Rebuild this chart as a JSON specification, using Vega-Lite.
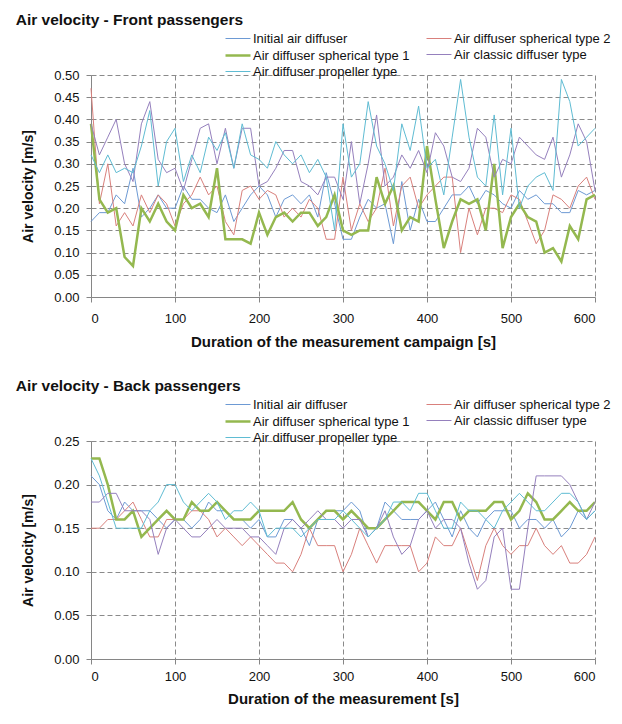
{
"$schema": "https://vega.github.io/schema/vega-lite/v6.json",
"background": "white",
"padding": {"left": 15, "top": 13, "right": 4, "bottom": 4},
"config": {
  "font": "Liberation Sans",
  "view": {"stroke": null},
  "axis": {
    "labelFont": "Liberation Sans", "labelFontSize": 13, "labelColor": "#111",
    "titleFont": "Liberation Sans", "titleFontSize": 14, "titleFontWeight": "bold", "titleColor": "#111",
    "domainColor": "#868686", "tickColor": "#868686", "tickSize": 5,
    "gridColor": "#8a8a8a", "gridDash": [5, 3], "gridWidth": 1
  },
  "legend": {"title": null, "orient": "none", "legendX": 137, "legendY": -45.5, "columns": 2, "symbolType": "M-1.47,0H1.47", "symbolSize": 289, "labelFontSize": 13, "labelFont": "Liberation Sans", "labelColor": "#111", "labelOffset": 5, "columnPadding": 14, "rowPadding": 0},
  "title": {"font": "Liberation Sans", "fontSize": 15.5, "fontWeight": "bold", "anchor": "start", "color": "#111"},
  "concat": {"spacing": 30}
},
"resolve": {"scale": {"color": "independent", "strokeWidth": "independent"}, "legend": {"color": "independent", "strokeWidth": "independent"}},
"datasets": {
"front": [
{"t":0,"ini":0.17,"sp2":0.47,"sp1":0.39,"cla":0.39,"pro":0.32},
{"t":10,"ini":0.19,"sp2":0.21,"sp1":0.22,"cla":0.32,"pro":0.28},
{"t":20,"ini":0.19,"sp2":0.30,"sp1":0.19,"cla":0.36,"pro":0.32},
{"t":30,"ini":0.23,"sp2":0.16,"sp1":0.20,"cla":0.40,"pro":0.28},
{"t":40,"ini":0.21,"sp2":0.19,"sp1":0.09,"cla":0.30,"pro":0.29},
{"t":50,"ini":0.29,"sp2":0.16,"sp1":0.07,"cla":0.26,"pro":0.28},
{"t":60,"ini":0.18,"sp2":0.23,"sp1":0.20,"cla":0.39,"pro":0.34},
{"t":70,"ini":0.20,"sp2":0.19,"sp1":0.17,"cla":0.44,"pro":0.42},
{"t":80,"ini":0.23,"sp2":0.23,"sp1":0.21,"cla":0.31,"pro":0.25},
{"t":90,"ini":0.20,"sp2":0.21,"sp1":0.17,"cla":0.28,"pro":0.35},
{"t":100,"ini":0.20,"sp2":0.16,"sp1":0.15,"cla":0.29,"pro":0.38},
{"t":110,"ini":0.25,"sp2":0.21,"sp1":0.23,"cla":0.24,"pro":0.26},
{"t":120,"ini":0.22,"sp2":0.23,"sp1":0.20,"cla":0.31,"pro":0.32},
{"t":130,"ini":0.22,"sp2":0.27,"sp1":0.21,"cla":0.38,"pro":0.28},
{"t":140,"ini":0.20,"sp2":0.23,"sp1":0.18,"cla":0.39,"pro":0.36},
{"t":150,"ini":0.19,"sp2":0.25,"sp1":0.29,"cla":0.30,"pro":0.33},
{"t":160,"ini":0.23,"sp2":0.17,"sp1":0.13,"cla":0.38,"pro":0.37},
{"t":170,"ini":0.17,"sp2":0.14,"sp1":0.13,"cla":0.29,"pro":0.29},
{"t":180,"ini":0.20,"sp2":0.24,"sp1":0.13,"cla":0.38,"pro":0.39},
{"t":190,"ini":0.23,"sp2":0.25,"sp1":0.12,"cla":0.38,"pro":0.32},
{"t":200,"ini":0.25,"sp2":0.22,"sp1":0.19,"cla":0.25,"pro":0.31},
{"t":210,"ini":0.23,"sp2":0.24,"sp1":0.14,"cla":0.26,"pro":0.29},
{"t":220,"ini":0.18,"sp2":0.23,"sp1":0.18,"cla":0.29,"pro":0.35},
{"t":230,"ini":0.22,"sp2":0.18,"sp1":0.19,"cla":0.33,"pro":0.32},
{"t":240,"ini":0.23,"sp2":0.20,"sp1":0.17,"cla":0.33,"pro":0.30},
{"t":250,"ini":0.21,"sp2":0.18,"sp1":0.19,"cla":0.26,"pro":0.32},
{"t":260,"ini":0.23,"sp2":0.22,"sp1":0.19,"cla":0.25,"pro":0.28},
{"t":270,"ini":0.18,"sp2":0.20,"sp1":0.16,"cla":0.23,"pro":0.31},
{"t":280,"ini":0.28,"sp2":0.13,"sp1":0.18,"cla":0.27,"pro":0.27},
{"t":290,"ini":0.21,"sp2":0.13,"sp1":0.23,"cla":0.27,"pro":0.15},
{"t":300,"ini":0.13,"sp2":0.27,"sp1":0.15,"cla":0.22,"pro":0.39},
{"t":310,"ini":0.13,"sp2":0.15,"sp1":0.14,"cla":0.35,"pro":0.27},
{"t":320,"ini":0.18,"sp2":0.21,"sp1":0.15,"cla":0.21,"pro":0.30},
{"t":330,"ini":0.22,"sp2":0.17,"sp1":0.15,"cla":0.30,"pro":0.44},
{"t":340,"ini":0.20,"sp2":0.20,"sp1":0.27,"cla":0.41,"pro":0.34},
{"t":350,"ini":0.21,"sp2":0.29,"sp1":0.21,"cla":0.25,"pro":0.30},
{"t":360,"ini":0.12,"sp2":0.16,"sp1":0.25,"cla":0.27,"pro":0.24},
{"t":370,"ini":0.26,"sp2":0.25,"sp1":0.15,"cla":0.32,"pro":0.39},
{"t":380,"ini":0.15,"sp2":0.27,"sp1":0.18,"cla":0.29,"pro":0.33},
{"t":390,"ini":0.22,"sp2":0.20,"sp1":0.17,"cla":0.33,"pro":0.43},
{"t":400,"ini":0.17,"sp2":0.23,"sp1":0.34,"cla":0.28,"pro":0.29},
{"t":410,"ini":0.17,"sp2":0.25,"sp1":0.22,"cla":0.37,"pro":0.31},
{"t":420,"ini":0.20,"sp2":0.27,"sp1":0.11,"cla":0.34,"pro":0.23},
{"t":430,"ini":0.23,"sp2":0.27,"sp1":0.17,"cla":0.27,"pro":0.36},
{"t":440,"ini":0.23,"sp2":0.10,"sp1":0.22,"cla":0.26,"pro":0.49},
{"t":450,"ini":0.25,"sp2":0.20,"sp1":0.21,"cla":0.29,"pro":0.36},
{"t":460,"ini":0.21,"sp2":0.14,"sp1":0.22,"cla":0.38,"pro":0.27},
{"t":470,"ini":0.24,"sp2":0.20,"sp1":0.15,"cla":0.36,"pro":0.25},
{"t":480,"ini":0.23,"sp2":0.20,"sp1":0.30,"cla":0.27,"pro":0.41},
{"t":490,"ini":0.21,"sp2":0.19,"sp1":0.11,"cla":0.31,"pro":0.23},
{"t":500,"ini":0.20,"sp2":0.23,"sp1":0.18,"cla":0.30,"pro":0.38},
{"t":510,"ini":0.24,"sp2":0.22,"sp1":0.21,"cla":0.36,"pro":0.20},
{"t":520,"ini":0.22,"sp2":0.17,"sp1":0.18,"cla":0.34,"pro":0.25},
{"t":530,"ini":0.23,"sp2":0.12,"sp1":0.17,"cla":0.32,"pro":0.27},
{"t":540,"ini":0.21,"sp2":0.15,"sp1":0.10,"cla":0.31,"pro":0.28},
{"t":550,"ini":0.21,"sp2":0.23,"sp1":0.11,"cla":0.36,"pro":0.24},
{"t":560,"ini":0.19,"sp2":0.22,"sp1":0.08,"cla":0.27,"pro":0.49},
{"t":570,"ini":0.19,"sp2":0.20,"sp1":0.16,"cla":0.32,"pro":0.44},
{"t":580,"ini":0.24,"sp2":0.25,"sp1":0.13,"cla":0.39,"pro":0.34},
{"t":590,"ini":0.23,"sp2":0.27,"sp1":0.22,"cla":0.35,"pro":0.36},
{"t":600,"ini":0.24,"sp2":0.22,"sp1":0.23,"cla":0.24,"pro":0.38}
],
"back": [
{"t":0,"ini":0.21,"sp2":0.15,"sp1":0.23,"cla":0.18,"pro":0.23},
{"t":10,"ini":0.20,"sp2":0.15,"sp1":0.23,"cla":0.18,"pro":0.21},
{"t":20,"ini":0.17,"sp2":0.16,"sp1":0.20,"cla":0.19,"pro":0.18},
{"t":30,"ini":0.16,"sp2":0.16,"sp1":0.16,"cla":0.19,"pro":0.15},
{"t":40,"ini":0.18,"sp2":0.17,"sp1":0.16,"cla":0.17,"pro":0.15},
{"t":50,"ini":0.17,"sp2":0.18,"sp1":0.17,"cla":0.17,"pro":0.15},
{"t":60,"ini":0.17,"sp2":0.16,"sp1":0.14,"cla":0.17,"pro":0.15},
{"t":70,"ini":0.17,"sp2":0.14,"sp1":0.15,"cla":0.16,"pro":0.17},
{"t":80,"ini":0.16,"sp2":0.14,"sp1":0.16,"cla":0.12,"pro":0.18},
{"t":90,"ini":0.15,"sp2":0.16,"sp1":0.17,"cla":0.15,"pro":0.20},
{"t":100,"ini":0.16,"sp2":0.16,"sp1":0.16,"cla":0.16,"pro":0.20},
{"t":110,"ini":0.16,"sp2":0.16,"sp1":0.16,"cla":0.15,"pro":0.18},
{"t":120,"ini":0.15,"sp2":0.17,"sp1":0.18,"cla":0.14,"pro":0.17},
{"t":130,"ini":0.16,"sp2":0.17,"sp1":0.17,"cla":0.14,"pro":0.18},
{"t":140,"ini":0.18,"sp2":0.16,"sp1":0.17,"cla":0.15,"pro":0.19},
{"t":150,"ini":0.17,"sp2":0.14,"sp1":0.18,"cla":0.16,"pro":0.18},
{"t":160,"ini":0.17,"sp2":0.15,"sp1":0.17,"cla":0.15,"pro":0.16},
{"t":170,"ini":0.16,"sp2":0.14,"sp1":0.16,"cla":0.15,"pro":0.17},
{"t":180,"ini":0.16,"sp2":0.13,"sp1":0.16,"cla":0.15,"pro":0.17},
{"t":190,"ini":0.15,"sp2":0.14,"sp1":0.16,"cla":0.14,"pro":0.18},
{"t":200,"ini":0.16,"sp2":0.13,"sp1":0.17,"cla":0.14,"pro":0.17},
{"t":210,"ini":0.14,"sp2":0.12,"sp1":0.17,"cla":0.13,"pro":0.14},
{"t":220,"ini":0.14,"sp2":0.11,"sp1":0.17,"cla":0.12,"pro":0.15},
{"t":230,"ini":0.16,"sp2":0.11,"sp1":0.17,"cla":0.15,"pro":0.15},
{"t":240,"ini":0.16,"sp2":0.10,"sp1":0.18,"cla":0.16,"pro":0.15},
{"t":250,"ini":0.15,"sp2":0.12,"sp1":0.16,"cla":0.15,"pro":0.14},
{"t":260,"ini":0.13,"sp2":0.15,"sp1":0.15,"cla":0.16,"pro":0.15},
{"t":270,"ini":0.16,"sp2":0.13,"sp1":0.16,"cla":0.17,"pro":0.16},
{"t":280,"ini":0.17,"sp2":0.13,"sp1":0.17,"cla":0.16,"pro":0.16},
{"t":290,"ini":0.17,"sp2":0.13,"sp1":0.17,"cla":0.16,"pro":0.16},
{"t":300,"ini":0.17,"sp2":0.10,"sp1":0.16,"cla":0.15,"pro":0.17},
{"t":310,"ini":0.18,"sp2":0.12,"sp1":0.17,"cla":0.16,"pro":0.16},
{"t":320,"ini":0.17,"sp2":0.15,"sp1":0.16,"cla":0.16,"pro":0.15},
{"t":330,"ini":0.14,"sp2":0.13,"sp1":0.15,"cla":0.14,"pro":0.14},
{"t":340,"ini":0.15,"sp2":0.11,"sp1":0.15,"cla":0.15,"pro":0.15},
{"t":350,"ini":0.18,"sp2":0.13,"sp1":0.16,"cla":0.17,"pro":0.16},
{"t":360,"ini":0.17,"sp2":0.13,"sp1":0.17,"cla":0.14,"pro":0.18},
{"t":370,"ini":0.16,"sp2":0.13,"sp1":0.18,"cla":0.12,"pro":0.18},
{"t":380,"ini":0.16,"sp2":0.13,"sp1":0.18,"cla":0.13,"pro":0.17},
{"t":390,"ini":0.16,"sp2":0.10,"sp1":0.18,"cla":0.16,"pro":0.19},
{"t":400,"ini":0.17,"sp2":0.11,"sp1":0.17,"cla":0.17,"pro":0.19},
{"t":410,"ini":0.18,"sp2":0.14,"sp1":0.16,"cla":0.15,"pro":0.17},
{"t":420,"ini":0.16,"sp2":0.13,"sp1":0.18,"cla":0.16,"pro":0.15},
{"t":430,"ini":0.14,"sp2":0.13,"sp1":0.18,"cla":0.16,"pro":0.15},
{"t":440,"ini":0.17,"sp2":0.15,"sp1":0.16,"cla":0.15,"pro":0.18},
{"t":450,"ini":0.15,"sp2":0.12,"sp1":0.17,"cla":0.11,"pro":0.17},
{"t":460,"ini":0.14,"sp2":0.09,"sp1":0.17,"cla":0.08,"pro":0.17},
{"t":470,"ini":0.16,"sp2":0.13,"sp1":0.17,"cla":0.09,"pro":0.16},
{"t":480,"ini":0.17,"sp2":0.15,"sp1":0.18,"cla":0.14,"pro":0.15},
{"t":490,"ini":0.17,"sp2":0.13,"sp1":0.18,"cla":0.15,"pro":0.17},
{"t":500,"ini":0.17,"sp2":0.12,"sp1":0.16,"cla":0.08,"pro":0.18},
{"t":510,"ini":0.15,"sp2":0.13,"sp1":0.17,"cla":0.08,"pro":0.19},
{"t":520,"ini":0.16,"sp2":0.13,"sp1":0.19,"cla":0.15,"pro":0.18},
{"t":530,"ini":0.16,"sp2":0.15,"sp1":0.18,"cla":0.21,"pro":0.17},
{"t":540,"ini":0.15,"sp2":0.13,"sp1":0.16,"cla":0.21,"pro":0.17},
{"t":550,"ini":0.16,"sp2":0.12,"sp1":0.16,"cla":0.21,"pro":0.18},
{"t":560,"ini":0.14,"sp2":0.13,"sp1":0.17,"cla":0.21,"pro":0.19},
{"t":570,"ini":0.15,"sp2":0.11,"sp1":0.18,"cla":0.20,"pro":0.19},
{"t":580,"ini":0.17,"sp2":0.11,"sp1":0.17,"cla":0.18,"pro":0.18},
{"t":590,"ini":0.16,"sp2":0.12,"sp1":0.17,"cla":0.16,"pro":0.16},
{"t":600,"ini":0.17,"sp2":0.14,"sp1":0.18,"cla":0.18,"pro":0.17}
]
},
"vconcat": [
{
  "title": {"text": "Air velocity - Front passengers", "dx": -6, "offset": 1},
  "width": 504, "height": 222,
  "data": {"name": "front"},
  "transform": [{"fold": ["ini", "sp2", "sp1", "cla", "pro"], "as": ["series", "v"]}],
  "mark": {"type": "line"},
  "encoding": {
    "x": {"field": "t", "type": "quantitative", "scale": {"domain": [0, 600], "nice": false},
      "axis": {"values": [0, 100, 200, 300, 400, 500, 600], "title": "Duration of the measurement campaign  [s]", "titleFontSize": 15, "labelPadding": 10, "titlePadding": 9}},
    "y": {"field": "v", "type": "quantitative", "scale": {"domain": [0, 0.5], "nice": false},
      "axis": {"values": [0, 0.05, 0.1, 0.15, 0.2, 0.25, 0.3, 0.35, 0.4, 0.45, 0.5], "format": ".2f", "title": "Air velocity  [m/s]", "labelPadding": 7, "titlePadding": 18}},
    "color": {"field": "series", "type": "nominal",
      "scale": {"domain": ["ini", "sp1", "pro", "sp2", "cla"], "range": ["#6d9ad4", "#94b84f", "#5fbcd3", "#d9807c", "#9580bd"]},
      "legend": {"labelExpr": "datum.label == 'ini' ? 'Initial air diffuser' : datum.label == 'sp2' ? 'Air diffuser spherical type 2' : datum.label == 'sp1' ? 'Air diffuser spherical type 1' : datum.label == 'cla' ? 'Air classic diffuser type' : 'Air diffuser propeller type'"}},
    "strokeWidth": {"field": "series", "type": "nominal",
      "scale": {"type": "ordinal", "domain": ["ini", "sp1", "pro", "sp2", "cla"], "range": [1, 2.5, 1, 1, 1]},
      "legend": {"labelExpr": "datum.label == 'ini' ? 'Initial air diffuser' : datum.label == 'sp2' ? 'Air diffuser spherical type 2' : datum.label == 'sp1' ? 'Air diffuser spherical type 1' : datum.label == 'cla' ? 'Air classic diffuser type' : 'Air diffuser propeller type'"}}
  }
},
{
  "title": {"text": "Air velocity - Back passengers", "dx": -6, "offset": 1},
  "width": 504, "height": 218,
  "data": {"name": "back"},
  "transform": [{"fold": ["ini", "sp2", "sp1", "cla", "pro"], "as": ["series", "v"]}],
  "mark": {"type": "line"},
  "encoding": {
    "x": {"field": "t", "type": "quantitative", "scale": {"domain": [0, 600], "nice": false},
      "axis": {"values": [0, 100, 200, 300, 400, 500, 600], "title": "Duration of the measurement  [s]", "titleFontSize": 15, "labelPadding": 6, "titlePadding": 8}},
    "y": {"field": "v", "type": "quantitative", "scale": {"domain": [0, 0.25], "nice": false},
      "axis": {"values": [0, 0.05, 0.1, 0.15, 0.2, 0.25], "format": ".2f", "title": "Air velocity  [m/s]", "labelPadding": 7, "titlePadding": 18}},
    "color": {"field": "series", "type": "nominal",
      "scale": {"domain": ["ini", "sp1", "pro", "sp2", "cla"], "range": ["#6d9ad4", "#94b84f", "#5fbcd3", "#d9807c", "#9580bd"]},
      "legend": {"labelExpr": "datum.label == 'ini' ? 'Initial air diffuser' : datum.label == 'sp2' ? 'Air diffuser spherical type 2' : datum.label == 'sp1' ? 'Air diffuser spherical type 1' : datum.label == 'cla' ? 'Air classic diffuser type' : 'Air diffuser propeller type'"}},
    "strokeWidth": {"field": "series", "type": "nominal",
      "scale": {"type": "ordinal", "domain": ["ini", "sp1", "pro", "sp2", "cla"], "range": [1, 2.5, 1, 1, 1]},
      "legend": {"labelExpr": "datum.label == 'ini' ? 'Initial air diffuser' : datum.label == 'sp2' ? 'Air diffuser spherical type 2' : datum.label == 'sp1' ? 'Air diffuser spherical type 1' : datum.label == 'cla' ? 'Air classic diffuser type' : 'Air diffuser propeller type'"}}
  }
}
]
}
